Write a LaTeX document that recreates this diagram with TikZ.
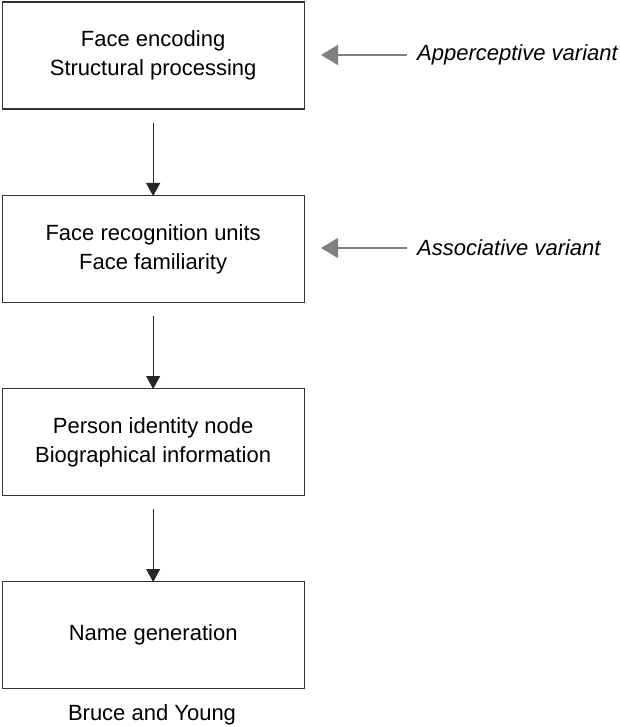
\documentclass[tikz,border=0pt]{standalone}
\usepackage{fontspec}
\setmainfont{Liberation Sans}
\usetikzlibrary{arrows.meta}
\begin{document}
\begin{tikzpicture}[x=1pt,y=-1pt,
  stage/.style={draw=black!80,line width=1.3pt,minimum width=302pt,minimum height=107pt,inner sep=0pt,align=center,font=\fontsize{22}{29}\selectfont,anchor=north west},
  flow/.style={-{Triangle[length=13pt,width=14pt]},line width=1pt,black!85},
  hint/.style={-{Triangle[length=17pt,width=20pt]},line width=1.6pt,black!50},
  note/.style={font=\fontsize{22}{26}\selectfont\itshape,anchor=west,inner sep=0pt}]
\useasboundingbox (0,0) rectangle (620,727);
\node[stage] (b1) at (1.5,1.5) {Face encoding\\Structural processing};
\node[stage] (b2) at (1.5,195) {Face recognition units\\Face familiarity};
\node[stage] (b3) at (1.5,388) {Person identity node\\Biographical information};
\node[stage] (b4) at (1.5,581) {Name generation};
\node[font=\fontsize{22}{26}\selectfont,inner sep=0pt] (cap) at (152,715) {Bruce and Young};
\draw[flow] ([yshift=-13pt]b1.south) -- ([yshift=-1pt]b2.north);
\draw[flow] ([yshift=-13pt]b2.south) -- ([yshift=-1pt]b3.north);
\draw[flow] ([yshift=-13pt]b3.south) -- ([yshift=-1pt]b4.north);
\node[note] (n1) at (417,55) {Apperceptive variant};
\node[note] (n2) at (417,248) {Associative variant};
\coordinate (t1) at (321,55);
\coordinate (t2) at (321,248);
\draw[hint] ([xshift=-10pt]n1.west) -- (t1);
\draw[hint] ([xshift=-10pt]n2.west) -- (t2);
\end{tikzpicture}
\end{document}
